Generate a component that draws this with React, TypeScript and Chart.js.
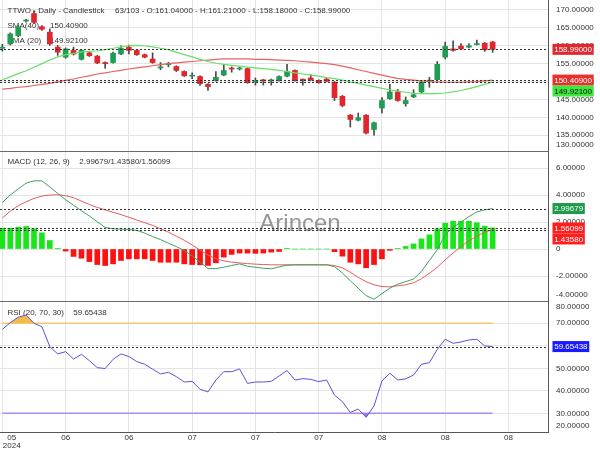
import React, { useEffect, useRef } from 'react';
import { Chart, registerables } from 'chart.js';

Chart.register(...registerables);

const FONT = '"Liberation Sans", Arial, sans-serif';

// ---------- data ----------
const symbol = 'TTWO';
const totalBars = 103;
const xTickIndex = [0, 8, 16, 24, 32, 40, 48, 56, 64];
const xTickLabels = ['05', '06', '06', '07', '07', '07', '08', '08', '08'];
const xYearLabel = '2024';

const opens = [159.3, 160.5, 162.8, 166.9, 169.0, 165.3, 163.8, 159.6, 156.8, 158.7, 156.2, 158.0, 157.1, 155.3, 155.3, 157.7, 159.6, 158.7, 157.5, 156.3, 153.8, 154.7, 154.2, 152.8, 151.5, 151.4, 149.2, 150.3, 151.8, 153.7, 153.5, 153.6, 150.0, 150.4, 150.2, 150.3, 151.5, 153.1, 150.6, 151.0, 150.3, 150.7, 149.8, 145.9, 140.6, 139.2, 140.6, 136.6, 142.6, 145.2, 147.1, 143.8, 145.7, 147.1, 150.1, 150.5, 156.8, 159.1, 159.9, 159.6, 160.3, 160.7, 161.04];
const highs = [160.4, 163.6, 165.6, 167.4, 169.8, 165.6, 164.7, 160.1, 159.4, 159.6, 159.0, 158.3, 157.3, 155.5, 158.2, 160.0, 160.2, 158.9, 157.7, 158.0, 155.3, 155.4, 154.4, 153.0, 152.4, 151.6, 149.4, 152.8, 154.8, 154.1, 154.0, 153.8, 151.0, 150.6, 150.7, 151.6, 154.8, 153.3, 150.7, 151.9, 150.5, 150.9, 150.0, 146.1, 140.8, 141.2, 140.8, 138.7, 145.5, 149.2, 147.8, 145.7, 147.7, 150.2, 151.2, 155.6, 161.0, 161.4, 160.6, 160.6, 161.6, 160.9, 161.21];
const lows = [158.5, 160.2, 162.5, 166.6, 166.2, 164.3, 160.1, 157.3, 156.5, 157.4, 156.0, 157.0, 155.0, 153.7, 155.1, 157.5, 157.7, 157.3, 156.6, 155.1, 153.3, 154.1, 152.8, 151.4, 150.8, 148.9, 147.5, 150.1, 151.6, 152.6, 153.2, 149.5, 149.0, 149.0, 149.0, 150.1, 151.3, 150.1, 149.0, 150.3, 149.5, 149.9, 144.7, 142.9, 137.3, 139.0, 135.4, 135.0, 141.2, 145.0, 144.5, 143.1, 145.5, 146.7, 148.4, 150.3, 156.3, 158.5, 158.9, 159.4, 160.2, 158.4, 158.18];
const closes = [159.4, 163.3, 165.3, 167.1, 166.5, 164.6, 160.5, 158.2, 159.1, 157.7, 158.7, 157.2, 155.2, 155.0, 157.9, 159.3, 158.7, 157.5, 156.8, 155.3, 154.0, 154.9, 153.1, 151.6, 151.7, 149.4, 148.6, 151.2, 153.1, 153.5, 153.7, 149.7, 150.2, 150.2, 150.4, 151.4, 152.8, 150.3, 150.4, 150.5, 149.7, 150.1, 145.5, 143.3, 139.4, 139.9, 135.6, 138.5, 144.7, 147.1, 144.7, 144.7, 146.3, 149.8, 150.3, 154.8, 159.8, 158.7, 159.1, 160.0, 160.5, 158.9, 158.99];

const sma20 = [150.5, 151.3, 152.2, 153.0, 154.0, 155.0, 156.0, 156.9, 157.5, 157.9, 158.2, 158.4, 158.6, 158.9, 159.3, 159.7, 160.0, 160.1, 160.0, 159.7, 159.3, 158.9, 158.2, 157.5, 156.9, 156.2, 155.6, 155.1, 154.8, 154.5, 154.3, 154.0, 153.8, 153.6, 153.4, 153.1, 152.8, 152.4, 152.1, 151.8, 151.5, 151.1, 150.8, 150.4, 149.9, 149.5, 149.0, 148.6, 148.1, 147.7, 147.3, 147.0, 146.7, 146.6, 146.6, 146.6, 146.8, 147.1, 147.5, 148.0, 148.6, 149.2, 149.921];
const sma40 = [147.9, 148.1, 148.4, 148.6, 148.9, 149.2, 149.5, 149.9, 150.3, 150.7, 151.2, 151.6, 152.1, 152.4, 152.8, 153.1, 153.5, 153.8, 154.1, 154.4, 154.7, 155.0, 155.2, 155.4, 155.6, 155.8, 156.0, 156.2, 156.3, 156.3, 156.3, 156.3, 156.2, 156.2, 156.1, 156.0, 155.9, 155.8, 155.6, 155.4, 155.2, 155.0, 154.7, 154.3, 153.8, 153.3, 152.8, 152.3, 151.8, 151.3, 150.9, 150.6, 150.4, 150.2, 150.0, 149.9, 149.8, 149.8, 149.8, 149.9, 150.0, 150.2, 150.409];

const macdLine = [3.45, 4.0, 4.45, 4.88, 5.05, 5.05, 4.6, 4.12, 3.65, 3.25, 2.83, 2.45, 2.02, 1.6, 1.5, 1.47, 1.45, 1.38, 1.18, 0.92, 0.7, 0.43, 0.18, -0.12, -0.5, -0.97, -1.45, -1.45, -1.35, -1.22, -1.1, -1.28, -1.35, -1.42, -1.47, -1.32, -1.2, -1.17, -1.17, -1.17, -1.17, -1.17, -1.3, -1.78, -2.35, -2.9, -3.45, -3.72, -3.3, -2.9, -2.6, -2.42, -2.22, -1.65, -0.85, -0.05, 1.05, 1.6, 2.0, 2.4, 2.75, 2.9, 2.99679];
const signalLine = [2.3, 2.8, 3.2, 3.5, 3.75, 3.92, 4.0, 4.02, 3.95, 3.8, 3.55, 3.3, 3.08, 2.9, 2.72, 2.55, 2.35, 2.15, 1.95, 1.75, 1.5, 1.25, 0.95, 0.65, 0.3, -0.08, -0.45, -0.72, -0.88, -0.97, -1.03, -1.08, -1.12, -1.15, -1.17, -1.17, -1.17, -1.17, -1.17, -1.17, -1.17, -1.17, -1.22, -1.4, -1.72, -2.1, -2.42, -2.65, -2.78, -2.8, -2.72, -2.65, -2.5, -2.2, -1.8, -1.35, -0.8, -0.3, 0.2, 0.6, 0.95, 1.25, 1.4358];
const macdHist = [1.54, 1.54, 1.61, 1.67, 1.5, 1.2, 0.63, 0.05, -0.15, -0.55, -0.68, -0.93, -1.15, -1.22, -1.1, -0.85, -0.73, -0.73, -0.73, -0.85, -0.98, -0.98, -0.98, -1.1, -1.15, -1.17, -1.22, -1.02, -0.6, -0.4, -0.3, -0.3, -0.32, -0.3, -0.23, -0.18, 0.05, 0, 0, 0, 0, 0, -0.2, -0.53, -0.98, -1.1, -1.39, -1.15, -0.73, -0.1, 0.05, 0.19, 0.38, 0.75, 1.05, 1.5, 1.91, 2.06, 2.06, 2.06, 1.94, 1.69, 1.56099];

const rsi = [67.3, 70.3, 72.7, 73.7, 70, 68.5, 59.6, 56.4, 57.4, 54.1, 56.2, 53.4, 50.3, 49.9, 54, 56.4, 55.2, 53, 51.8, 49.6, 47.5, 48.2, 46.3, 43.9, 44.2, 40.7, 39.5, 44.8, 48.5, 48.5, 49.7, 43.3, 43.9, 43.9, 44.2, 46.6, 49, 44.8, 45.4, 45.1, 44.1, 44.8, 38.1, 35.2, 30.4, 31.9, 28.2, 33.3, 44.4, 47.8, 44.8, 45.3, 47, 51.8, 52.5, 58.4, 62.9, 61.1, 61.7, 62.6, 62.9, 59.9, 59.65438];
const rsiOverbought = 70;
const rsiOversold = 30;

const priceTicks = [130, 135, 140, 145, 150, 155, 160, 165, 170];
const macdTicks = [-4, -2, 0, 2, 4, 6];
const rsiTicks = [20, 30, 40, 50, 60, 70, 80];

// ---------- styles ----------
const GREEN = '#1f9d55';
const RED = '#e3262d';
const WICK = '#4a4a4a';
const last = closes.length - 1;

const pts = (arr: number[]) => arr.map((v, i) => ({ x: i, y: v }));

const tickSetter = (vals: number[]) => (s: any) => {
  s.ticks = vals.filter((v) => v >= s.min && v <= s.max).map((v) => ({ value: v }));
};

const overlay = {
  id: 'overlay',
  beforeDatasetsDraw(chart: any) {
    const ctx = chart.ctx;
    const yP = chart.scales.yP, yM = chart.scales.yM, yR = chart.scales.yR;
    ctx.save();
    ctx.font = `24px ${FONT}`;
    ctx.fillStyle = 'rgba(105,105,105,0.7)';
    ctx.textAlign = 'center';
    ctx.textBaseline = 'alphabetic';
    ctx.fillText('Arincen', 300, 231);

    ctx.font = `8px ${FONT}`;
    ctx.fillStyle = '#333';
    ctx.textAlign = 'left';
    const f = (v: number) => v.toFixed(5);
    ctx.fillText(`${symbol} - Daily - Candlestick`, 7.5, yP.top + 13.3);
    ctx.fillText(`${closes.length}/${totalBars} - O:${f(opens[last])} - H:${f(highs[last])} - L:${f(lows[last])} - C:${f(closes[last])}`, 115, yP.top + 13.3);
    ctx.fillText('SMA(40)', 7.5, yP.top + 28.3);
    ctx.fillText(f(sma40[last]), 50, yP.top + 28.3);
    ctx.fillText('SMA (20)', 7.5, yP.top + 43.3);
    ctx.fillText(f(sma20[last]), 50, yP.top + 43.3);
    ctx.fillText('MACD (12, 26, 9)', 7.5, yM.top + 13.3);
    ctx.fillText(`${f(macdLine[last])}/${f(signalLine[last])}/${f(macdHist[last])}`, 79.3, yM.top + 13.3);
    ctx.fillText('RSI (20, 70, 30)', 7.5, yR.top + 13.6);
    ctx.fillText(f(rsi[last]), 73.3, yR.top + 13.6);
    ctx.restore();
  },
  afterDatasetsDraw(chart: any) {
    const ctx = chart.ctx;
    const area = chart.chartArea;
    const yP = chart.scales.yP, yM = chart.scales.yM, yR = chart.scales.yR;
    ctx.save();
    ctx.strokeStyle = '#333';
    ctx.lineWidth = 1;
    ctx.setLineDash([2, 2]);
    const dash = (s: any, v: number) => {
      const y = Math.round(s.getPixelForValue(v)) + 0.5;
      ctx.beginPath();
      ctx.moveTo(area.left, y);
      ctx.lineTo(area.right, y);
      ctx.stroke();
    };
    dash(yP, closes[last]);
    dash(yP, sma40[last]);
    dash(yP, sma20[last]);
    dash(yM, macdLine[last]);
    dash(yM, macdHist[last]);
    dash(yM, signalLine[last]);
    dash(yR, rsi[last]);
    ctx.restore();
  },
  afterDraw(chart: any) {
    const ctx = chart.ctx;
    const area = chart.chartArea;
    const xs = chart.scales.x;
    const yP = chart.scales.yP, yM = chart.scales.yM, yR = chart.scales.yR;
    ctx.save();
    // separators
    ctx.strokeStyle = '#6a6a6a';
    ctx.lineWidth = 1;
    [yM.top, yR.top].forEach((t: number) => {
      const y = Math.round(t) + 0.5;
      ctx.beginPath();
      ctx.moveTo(0, y);
      ctx.lineTo(area.right, y);
      ctx.stroke();
    });
    // y labels
    ctx.font = `8px ${FONT}`;
    ctx.textAlign = 'left';
    ctx.textBaseline = 'middle';
    ctx.fillStyle = '#333';
    const lab = (s: any, vals: number[], fmt: (v: number) => string) => {
      vals.forEach((v) => {
        let y = s.getPixelForValue(v);
        y = Math.max(s.top + 6, Math.min(s.bottom - 6, y));
        ctx.fillText(fmt(v), s.left + 8, y);
      });
    };
    lab(yP, priceTicks, (v) => v.toFixed(5));
    lab(yM, macdTicks, (v) => (v === 0 ? '0' : v.toFixed(5)));
    lab(yR, rsiTicks, (v) => v.toFixed(5));

    // value boxes
    const boxH = 11;
    const boxes = (s: any, items: { v: number; bg: string; fg: string }[]) => {
      const list = items.map((it) => ({ ...it, y: s.getPixelForValue(it.v) })).sort((a, b) => a.y - b.y);
      let prev = -Infinity;
      list.forEach((it) => {
        let top = it.y - boxH / 2;
        if (top < prev) top = prev;
        const text = it.v.toFixed(5);
        const w = ctx.measureText(text).width + 3.4;
        ctx.fillStyle = it.bg;
        ctx.fillRect(s.left + 4.5, top, w, boxH);
        ctx.fillStyle = it.fg;
        ctx.fillText(text, s.left + 6.2, top + boxH / 2 + 0.5);
        prev = top + boxH;
      });
    };
    boxes(yP, [
      { v: closes[last], bg: '#e0282e', fg: '#fff' },
      { v: sma40[last], bg: '#e8302c', fg: '#fff' },
      { v: sma20[last], bg: '#3fe83f', fg: '#111' },
    ]);
    boxes(yM, [
      { v: macdLine[last], bg: '#1e9a4c', fg: '#fff' },
      { v: macdHist[last], bg: '#ff1e1e', fg: '#fff' },
      { v: signalLine[last], bg: '#ff1e1e', fg: '#fff' },
    ]);
    boxes(yR, [{ v: rsi[last], bg: '#1a1aff', fg: '#fff' }]);

    // x labels
    ctx.fillStyle = '#333';
    ctx.textBaseline = 'alphabetic';
    ctx.textAlign = 'center';
    xTickIndex.forEach((idx, k) => {
      const px = xs.getPixelForValue(idx);
      if (k === 0) {
        const w = ctx.measureText(xYearLabel).width;
        const cx = px + 0.5 + w / 2;
        ctx.fillText(xTickLabels[k], cx, area.bottom + 8);
        ctx.fillText(xYearLabel, cx, area.bottom + 15.5);
      } else {
        ctx.fillText(xTickLabels[k], px, area.bottom + 8);
      }
    });
    ctx.restore();
  },
};

export default function App() {
  const ref = useRef<HTMLCanvasElement>(null);
  useEffect(() => {
    const bodyColors = opens.map((o, i) => (closes[i] >= o ? GREEN : RED));
    const histColors = macdHist.map((v) => (v >= 0 ? '#19e619' : '#ff1010'));
    const grid = { color: '#e4e4e4', drawTicks: false, offset: false };
    const yBase = {
      type: 'linear' as const,
      position: 'right' as const,
      stack: 'panels',
      offset: false,
      ticks: { display: false },
      grid,
      border: { color: '#555' },
      afterFit: (s: any) => {
        s.width = 52;
      },
    };
    const chart = new Chart(ref.current as HTMLCanvasElement, {
      type: 'line',
      data: {
        datasets: [
          {
            type: 'bar',
            data: lows.map((l, i) => ({ x: i, y: [l, highs[i]] })) as any,
            backgroundColor: WICK,
            barThickness: 1,
            grouped: false,
            yAxisID: 'yP',
            order: 9,
          },
          {
            type: 'bar',
            data: opens.map((o, i) => ({ x: i, y: [o, closes[i]] })) as any,
            backgroundColor: bodyColors,
            barThickness: 5,
            minBarLength: 1,
            grouped: false,
            yAxisID: 'yP',
            order: 8,
          },
          {
            type: 'line',
            data: pts(sma20),
            borderColor: '#66e066',
            borderWidth: 1.2,
            pointRadius: 0,
            yAxisID: 'yP',
            order: 7,
          },
          {
            type: 'line',
            data: pts(sma40),
            borderColor: '#e86262',
            borderWidth: 1.2,
            pointRadius: 0,
            yAxisID: 'yP',
            order: 7,
          },
          {
            type: 'bar',
            data: pts(macdHist) as any,
            backgroundColor: histColors,
            barThickness: 5,
            grouped: false,
            yAxisID: 'yM',
            order: 8,
          },
          {
            type: 'line',
            data: pts(macdLine),
            borderColor: '#3f9f5f',
            borderWidth: 1,
            pointRadius: 0,
            yAxisID: 'yM',
            order: 6,
          },
          {
            type: 'line',
            data: pts(signalLine),
            borderColor: '#e35d5d',
            borderWidth: 1,
            pointRadius: 0,
            yAxisID: 'yM',
            order: 6,
          },
          {
            type: 'line',
            data: [{ x: 0, y: rsiOverbought }, { x: last, y: rsiOverbought }],
            borderColor: '#f7c77a',
            borderWidth: 1.5,
            pointRadius: 0,
            yAxisID: 'yR',
            order: 9,
          },
          {
            type: 'line',
            data: [{ x: 0, y: rsiOversold }, { x: last, y: rsiOversold }],
            borderColor: '#b58cf2',
            borderWidth: 1.5,
            pointRadius: 0,
            yAxisID: 'yR',
            order: 9,
          },
          {
            type: 'line',
            data: pts(rsi),
            borderWidth: 0,
            pointRadius: 0,
            fill: { target: { value: rsiOversold }, above: 'rgba(0,0,0,0)', below: '#9f70f0' } as any,
            yAxisID: 'yR',
            order: 5,
          },
          {
            type: 'line',
            data: pts(rsi),
            borderColor: '#5b52d8',
            borderWidth: 1,
            pointRadius: 0,
            fill: { target: { value: rsiOverbought }, above: '#f5bb4a', below: 'rgba(0,0,0,0)' } as any,
            yAxisID: 'yR',
            order: 4,
          },
        ],
      },
      options: {
        animation: false,
        responsive: false,
        devicePixelRatio: 1,
        events: [],
        layout: { padding: 0 },
        plugins: { legend: { display: false }, tooltip: { enabled: false } },
        scales: {
          x: {
            type: 'linear',
            min: -0.3,
            max: 69,
            offset: false,
            afterBuildTicks: (s: any) => {
              s.ticks = xTickIndex.map((v) => ({ value: v }));
            },
            ticks: { display: false },
            grid,
            border: { color: '#555' },
            afterFit: (s: any) => {
              s.height = 18;
            },
          },
          yP: { ...yBase, stackWeight: 151, min: 130.6, max: 172.77, afterBuildTicks: tickSetter(priceTicks) },
          yM: { ...yBase, stackWeight: 150, min: -3.85, max: 7.26, afterBuildTicks: tickSetter(macdTicks) },
          yR: { ...yBase, stackWeight: 131, min: 21.7, max: 79.9, afterBuildTicks: tickSetter(rsiTicks) },
        } as any,
      },
      plugins: [overlay],
    });
    return () => chart.destroy();
  }, []);
  return (
    <div style={{ position: 'absolute', left: 0, top: 0, width: 600, height: 450, background: '#fff' }}>
      <canvas ref={ref} width={600} height={450} style={{ width: 600, height: 450, display: 'block' }} />
    </div>
  );
}
